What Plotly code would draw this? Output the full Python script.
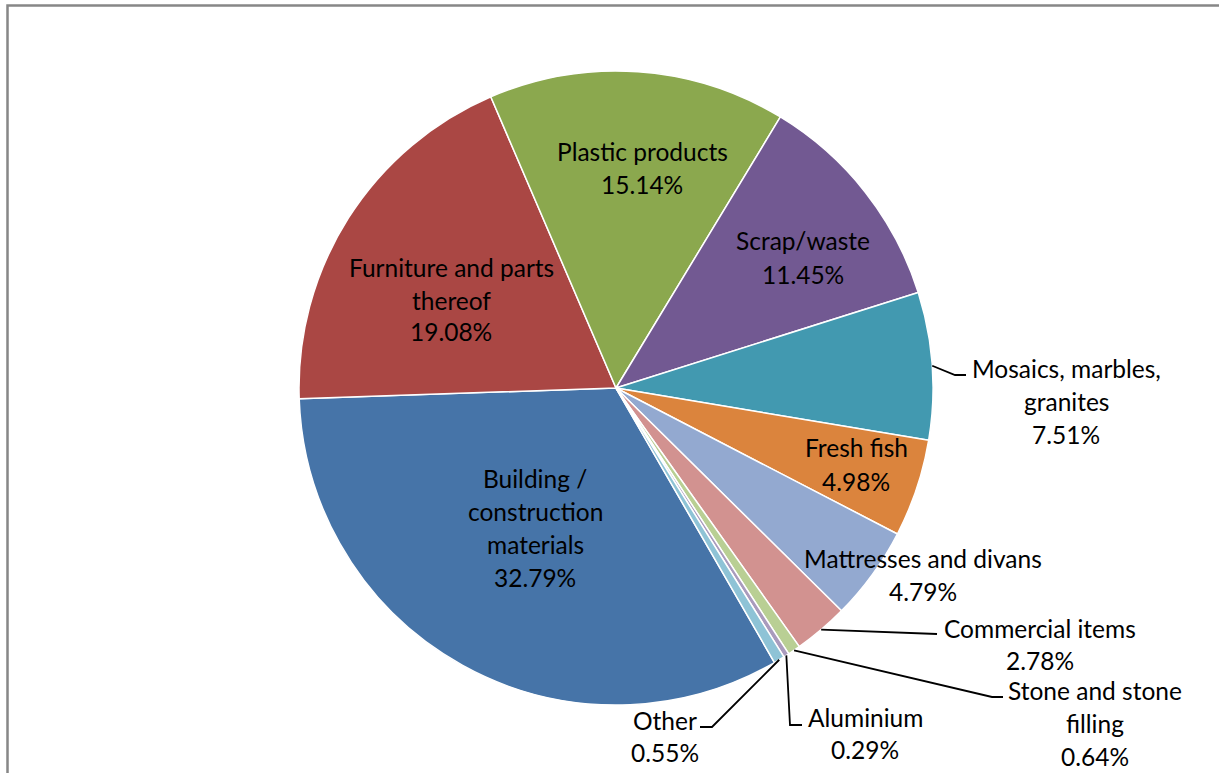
import math
import plotly.graph_objects as go

W, H = 1219, 773

categories = ["Building / construction materials", "Furniture and parts thereof", "Plastic products",
              "Scrap/waste", "Mosaics, marbles, granites", "Fresh fish", "Mattresses and divans",
              "Commercial items", "Stone and stone filling", "Aluminium", "Other"]
shares = [32.79, 19.08, 15.14, 11.45, 7.51, 4.98, 4.79, 2.78, 0.64, 0.29, 0.55]
colors = ["#4674A8", "#AA4744", "#8BA84E", "#725992", "#4299B0", "#DB843D",
          "#93A9D0", "#D29290", "#B9CF94", "#A99BBD", "#8EC3D6"]

# label line breaks (as displayed)
label_lines = [
    ["Building /", "construction", "materials"],
    ["Furniture and parts", "thereof"],
    ["Plastic products"],
    ["Scrap/waste"],
    ["Mosaics, marbles,", "granites"],
    ["Fresh fish"],
    ["Mattresses and divans"],
    ["Commercial items"],
    ["Stone and stone", "filling"],
    ["Aluminium"],
    ["Other"],
]
# label anchor (center x, first-line y) in pixels
label_pos = [(535, 478), (451, 268), (642, 152), (803, 241), (1066, 368), (856, 448),
             (923, 558), (1040, 628), (1095, 690), (865, 717), (665, 720)]
line_gap = [33, 32, 33, 33, 33, 33, 33, 32, 33, 32, 32]
# leader elbows (pixel) for outside labels: index -> list of points after the edge point
leaders = {4: [(955, 375), (966, 375)],
           7: [(937, 634)],
           8: [(992, 697), (1003, 697)],
           9: [(790, 725), (802, 725)],
           10: [(712, 727), (700, 727)]}

CX, CY, R = 616, 388, 317
ROT = 150


def px(x):
    return x / W


def py(y):
    return 1 - y / H


fig = go.Figure(go.Pie(
    labels=categories, values=shares, sort=False, direction="clockwise", rotation=ROT,
    marker=dict(colors=colors, line=dict(color="white", width=1.5)),
    textinfo="none", hoverinfo="label+percent", showlegend=False,
    domain=dict(x=[px(CX - R), px(CX + R)], y=[py(CY + R), py(CY - R)]),
))

font = dict(family="Lato, Calibri, sans-serif", size=24.5, color="black")
annotations = []
for i, lines in enumerate(label_lines):
    x0, y0 = label_pos[i]
    all_lines = lines + [f"{shares[i]:.2f}%"]
    for k, t in enumerate(all_lines):
        annotations.append(dict(x=px(x0), y=py(y0 + k * line_gap[i]), xref="paper", yref="paper",
                                text=t, showarrow=False, xanchor="center", yanchor="middle", font=font))

shapes = [dict(type="rect", xref="paper", yref="paper", x0=px(7.5), y0=py(790), x1=px(1240), y1=py(5.5),
               line=dict(color="#878787", width=2.5))]
total = sum(shares)
cum = 0
mids = []
for v in shares:
    mids.append(ROT + (cum + v / 2) / total * 360)
    cum += v
for i, pts in leaders.items():
    a = math.radians(mids[i])
    sx, sy = CX + R * math.sin(a), CY - R * math.cos(a)
    path_pts = [(sx, sy)] + pts
    d = "M " + " L ".join(f"{px(x)},{py(y)}" for x, y in path_pts)
    shapes.append(dict(type="path", xref="paper", yref="paper", path=d,
                       line=dict(color="black", width=1.8)))

fig.update_layout(width=W, height=H, margin=dict(l=0, r=0, t=0, b=0),
                  paper_bgcolor="white", plot_bgcolor="white",
                  annotations=annotations, shapes=shapes)
fig.write_html("out.html", config={"displayModeBar": False},
               post_script="document.body.style.margin='0';document.body.style.overflow='hidden';")
